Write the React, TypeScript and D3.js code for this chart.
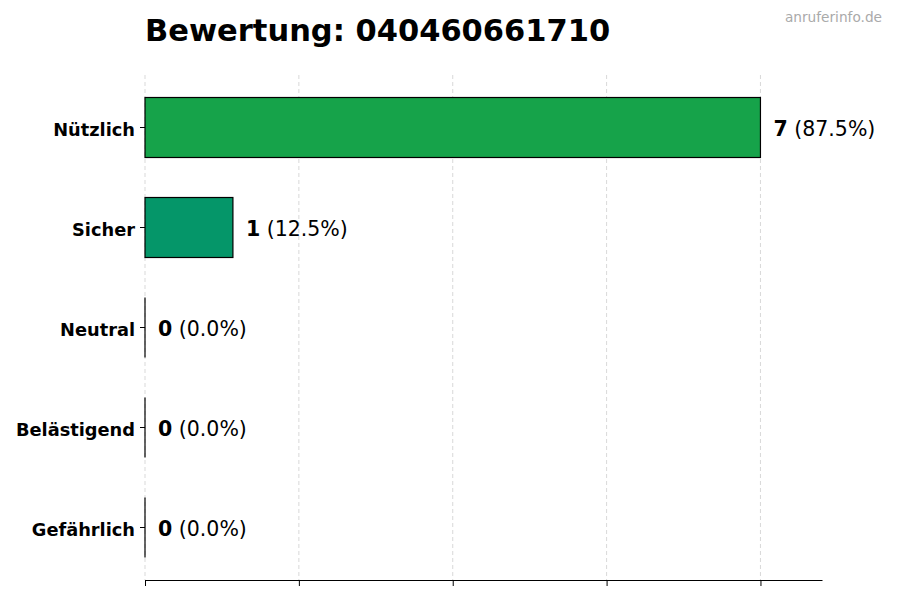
import { useEffect, useRef } from "react";
import * as d3 from "d3";

const categories = ["Nützlich", "Sicher", "Neutral", "Belästigend", "Gefährlich"];
const counts = [7, 1, 0, 0, 0];
const barColors = ["#16a34a", "#059669", "#9ca3af", "#f97316", "#dc2626"];
const xTicks = [0, 1.75, 3.5, 5.25, 7];
const title = "Bewertung: 040460661710";
const watermark = "anruferinfo.de";

export default function App() {
  const ref = useRef<SVGSVGElement>(null);

  useEffect(() => {
    if (!ref.current) return;
    const w = 900;
    const h = 600;
    const m = { top: 75, right: 78, bottom: 20, left: 145 };
    const font = "DejaVu Sans, sans-serif";
    const total = d3.sum(counts);

    const svg = d3.select(ref.current);
    svg.selectAll("*").remove();
    svg.attr("width", w).attr("height", h).attr("viewBox", `0 0 ${w} ${h}`);
    svg.append("rect").attr("width", w).attr("height", h).attr("fill", "#fff");

    const maxV = d3.max(counts) ?? 1;
    const x = d3.scaleLinear().domain([0, maxV * 1.1]).range([m.left, w - m.right]);
    const y = d3.scaleBand().domain(categories).range([m.top, h - m.bottom]).paddingInner(0.4).paddingOuter(0.225);

    // grid
    svg
      .append("g")
      .selectAll("line")
      .data(xTicks)
      .join("line")
      .attr("x1", (d) => x(d))
      .attr("x2", (d) => x(d))
      .attr("y1", m.top)
      .attr("y2", h - m.bottom)
      .attr("stroke", "#cfcfcf")
      .attr("stroke-width", 0.8)
      .attr("stroke-dasharray", "4,3");

    const data = categories.map((c, i) => ({ c, v: counts[i], color: barColors[i] }));

    svg
      .selectAll(".bar")
      .data(data.filter((d) => d.v > 0))
      .join("rect")
      .attr("class", "bar")
      .attr("x", x(0))
      .attr("y", (d) => y(d.c)!)
      .attr("width", (d) => x(d.v) - x(0))
      .attr("height", y.bandwidth())
      .attr("fill", (d) => d.color)
      .attr("stroke", "#000")
      .attr("stroke-width", 1.2);

    // zero-width bars still show their edge
    svg
      .selectAll(".zero")
      .data(data.filter((d) => d.v === 0))
      .join("line")
      .attr("class", "zero")
      .attr("x1", x(0))
      .attr("x2", x(0))
      .attr("y1", (d) => y(d.c)!)
      .attr("y2", (d) => y(d.c)! + y.bandwidth())
      .attr("stroke", "#000")
      .attr("stroke-width", 1.2);

    // value labels
    data.forEach((d) => {
      const t = svg
        .append("text")
        .attr("x", x(d.v) + 13)
        .attr("y", y(d.c)! + y.bandwidth() / 2)
        .attr("dy", "0.4em")
        .attr("font-family", font)
        .attr("font-size", 20.5)
        .attr("fill", "#000");
      t.append("tspan").attr("font-weight", "bold").text(String(d.v));
      t.append("tspan").text(` (${((d.v / total) * 100).toFixed(1)}%)`);
    });

    // y axis (no spine)
    const yAxis = svg
      .append("g")
      .attr("transform", `translate(${m.left},0)`)
      .call(d3.axisLeft(y).tickSize(5).tickPadding(5));
    yAxis.select(".domain").remove();
    yAxis.selectAll(".tick line").attr("stroke", "#000").attr("stroke-width", 1);
    yAxis
      .selectAll(".tick text")
      .attr("dy", "0.45em")
      .attr("font-family", font)
      .attr("font-size", 17.8)
      .attr("font-weight", "bold")
      .attr("fill", "#000");

    // x axis without labels
    const xAxis = svg
      .append("g")
      .attr("transform", `translate(0,${h - m.bottom})`)
      .call(d3.axisBottom(x).tickValues(xTicks).tickSize(6).tickSizeOuter(0));
    xAxis.selectAll(".tick text").remove();
    xAxis.select(".domain").attr("stroke", "#000").attr("stroke-width", 1.2);
    xAxis.selectAll(".tick line").attr("stroke", "#000");

    svg
      .append("text")
      .attr("x", m.left)
      .attr("y", 41)
      .attr("font-family", font)
      .attr("font-size", 30.5)
      .attr("font-weight", "bold")
      .attr("fill", "#000")
      .text(title);

    svg
      .append("text")
      .attr("x", 882)
      .attr("y", 22)
      .attr("text-anchor", "end")
      .attr("font-family", font)
      .attr("font-size", 13.7)
      .attr("fill", "#aaaaaa")
      .text(watermark);
  }, []);

  return <svg ref={ref} style={{ display: "block", position: "absolute", left: 0, top: 0 }} />;
}
